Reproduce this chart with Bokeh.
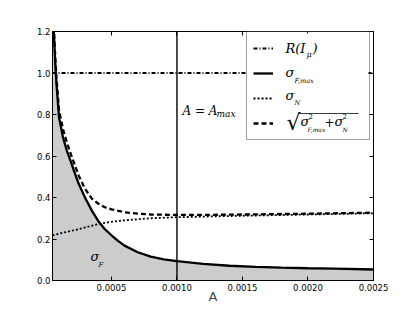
import math
from bokeh.plotting import figure
from bokeh.models import (Range1d, LinearAxis, Legend, LegendItem, Label, Span,
                          FixedTicker, NumeralTickFormatter, BoxAnnotation)
from bokeh.embed import file_html
from bokeh.resources import INLINE

# ---------------- data ----------------
A_F = [0.00005, 0.00006, 0.00007, 0.00008, 0.0001, 0.00013, 0.00016, 0.00019,
       0.00022, 0.00025, 0.0003, 0.00035, 0.0004, 0.00045, 0.0005, 0.00055,
       0.0006, 0.0007, 0.0008, 0.0009, 0.001, 0.0012, 0.0014, 0.0016, 0.0018,
       0.002, 0.0022, 0.0025]
SIGMA_F = [1.40, 1.20, 1.06, 0.95, 0.785, 0.69, 0.625, 0.573,
           0.518, 0.466, 0.397, 0.337, 0.286, 0.247, 0.218, 0.191,
           0.168, 0.136, 0.115, 0.102, 0.093, 0.080, 0.071, 0.066, 0.062,
           0.059, 0.057, 0.053]

A_N = [0.00005, 0.0001, 0.0002, 0.0003, 0.0004, 0.0005, 0.0006, 0.0007,
       0.0008, 0.001, 0.0012, 0.0015, 0.002, 0.0025]
SIGMA_N = [0.218, 0.226, 0.24, 0.256, 0.272, 0.283, 0.29, 0.295,
           0.30, 0.305, 0.308, 0.312, 0.318, 0.324]

A_T = [0.00005, 0.00006, 0.00007, 0.00008, 0.0001, 0.00013, 0.00016, 0.0002,
       0.00025, 0.0003, 0.00035, 0.0004, 0.00045, 0.0005, 0.0006, 0.0007,
       0.0008, 0.001, 0.0012, 0.0015, 0.002, 0.0025]
SIGMA_TOT = [1.42, 1.22, 1.09, 0.98, 0.82, 0.73, 0.665, 0.59,
             0.505, 0.44, 0.395, 0.37, 0.353, 0.343, 0.329, 0.322,
             0.318, 0.316, 0.316, 0.318, 0.322, 0.327]

A_R = [0.00005, 0.0025]
R_I = [1.0, 1.0]

A_MAX = 0.001

X_TICKS = [0.0005, 0.0010, 0.0015, 0.0020, 0.0025]
Y_TICKS = [0.0, 0.2, 0.4, 0.6, 0.8, 1.0, 1.2]

X0, X1 = 0.00005, 0.0025
Y0, Y1 = 0.0, 1.2

# ---------------- figure ----------------
p = figure(width=415, height=312, x_range=Range1d(X0, X1), y_range=Range1d(Y0, Y1),
           output_backend="svg", toolbar_location=None,
           min_border_left=52, min_border_right=42, min_border_top=31, min_border_bottom=32)
p.grid.visible = False
p.outline_line_color = "black"
p.outline_line_width = 1
p.background_fill_color = "white"

def style_axis(ax, ticks, fmt, show_labels=True):
    ax.ticker = FixedTicker(ticks=ticks)
    ax.formatter = NumeralTickFormatter(format=fmt)
    ax.major_tick_in = 4
    ax.major_tick_out = 0
    ax.minor_tick_in = 0
    ax.minor_tick_out = 0
    ax.major_tick_line_color = "black"
    ax.axis_line_color = "black"
    ax.major_label_text_font = "DejaVu Sans"
    ax.major_label_text_font_size = "8.5px"
    ax.major_label_text_color = "black" if show_labels else None
    ax.major_label_standoff = 3

style_axis(p.xaxis[0], X_TICKS, "0.0000")
style_axis(p.yaxis[0], Y_TICKS, "0.0")
p.yaxis[0].major_label_standoff = 2
p.xaxis[0].axis_label = "A"
p.xaxis[0].axis_label_text_font = "DejaVu Sans"
p.xaxis[0].axis_label_text_font_size = "13px"
p.xaxis[0].axis_label_text_font_style = "normal"
p.xaxis[0].axis_label_standoff = -5

top = LinearAxis()
style_axis(top, X_TICKS, "0.0000", show_labels=False)
p.add_layout(top, "above")
right = LinearAxis()
style_axis(right, Y_TICKS, "0.0", show_labels=False)
p.add_layout(right, "right")

# ---------------- marks ----------------
p.varea(x=A_F, y1=0, y2=SIGMA_F, fill_color="#cccccc", fill_alpha=1)

r_line = p.line(A_R, R_I, line_color="black", line_width=1.8, line_dash="4 2 1 2")
f_line = p.line(A_F, SIGMA_F, line_color="black", line_width=2.3)
n_line = p.line(A_N, SIGMA_N, line_color="black", line_width=1.8, line_dash="2 2")
t_line = p.line(A_T, SIGMA_TOT, line_color="black", line_width=2.3, line_dash="5 3")

p.add_layout(Span(location=A_MAX, dimension="height", line_color="black", line_width=1.4))

# ---------------- page-pixel helpers for annotations ----------------
FL, FR, FT, FB = 52.0, 373.0, 31.0, 280.0   # frame edges in page pixels

def px2x(px):
    return X0 + (px - FL) * (X1 - X0) / (FR - FL)

def px2y(py):
    return Y1 - (py - FT) * (Y1 - Y0) / (FB - FT)

# white backing of the legend box (drawn under the legend texts)
p.add_layout(BoxAnnotation(left=px2x(246), right=px2x(368), top=px2y(33), bottom=px2y(140),
                           fill_color="white", fill_alpha=1, line_color=None, level="overlay"))

def put(txt, px, py, size, style="italic", font="DejaVu Serif", angle=0.0):
    p.add_layout(Label(x=px2x(px), y=px2y(py), text=txt, text_font=font, level="overlay",
                       text_font_size=f"{size}px", text_font_style=style, angle=angle,
                       text_baseline="middle", text_align="left", text_color="black"))

legend = Legend(items=[LegendItem(label=" ", renderers=[r_line]),
                       LegendItem(label=" ", renderers=[f_line]),
                       LegendItem(label=" ", renderers=[n_line]),
                       LegendItem(label=" ", renderers=[t_line])],
                location=(194, 140), padding=6, spacing=5, margin=0,
                glyph_height=20, glyph_width=20, label_height=20, label_width=80,
                label_standoff=10, label_text_font_size="8px",
                border_line_color="#444444", border_line_width=1,
                background_fill_color="white", background_fill_alpha=0)
p.add_layout(legend)

# y axis label  R(S)  (S bold), rotated
put("R(", 29.5, 154, 10, style="normal", font="DejaVu Sans", angle=math.pi / 2)
put("S", 29.5, 143.2, 10, style="bold", font="DejaVu Sans", angle=math.pi / 2)
put(")", 29.5, 135.8, 10, style="normal", font="DejaVu Sans", angle=math.pi / 2)

# legend texts
put("R(I", 285, 48, 13)
put("\u03bc", 306, 54, 8)
put(")", 312, 48, 13)
put("\u03c3", 285, 72, 13)
put("F,max", 294, 80, 6.5)
put("\u03c3", 285, 95, 13)
put("N", 294, 102, 6.5)
put("\u221a", 286, 122, 22, style="normal", font="DejaVu Sans")
put("\u203e" * 12, 298, 116.5, 10, style="normal", font="DejaVu Sans")
put("\u03c3", 300, 121, 13)
put("2", 308, 115, 7, style="normal")
put("F,max", 307, 129, 6)
put("+", 324, 121, 12, style="normal")
put("\u03c3", 334, 121, 13)
put("2", 342, 115, 7, style="normal")
put("N", 342, 129, 6)

# in-plot texts
put("A = A", 182, 110, 12)
put("max", 216, 113, 9)
put("\u03c3", 90, 256, 13)
put("F", 98, 264, 7)

open("out.html", "w").write(file_html(p, INLINE))
